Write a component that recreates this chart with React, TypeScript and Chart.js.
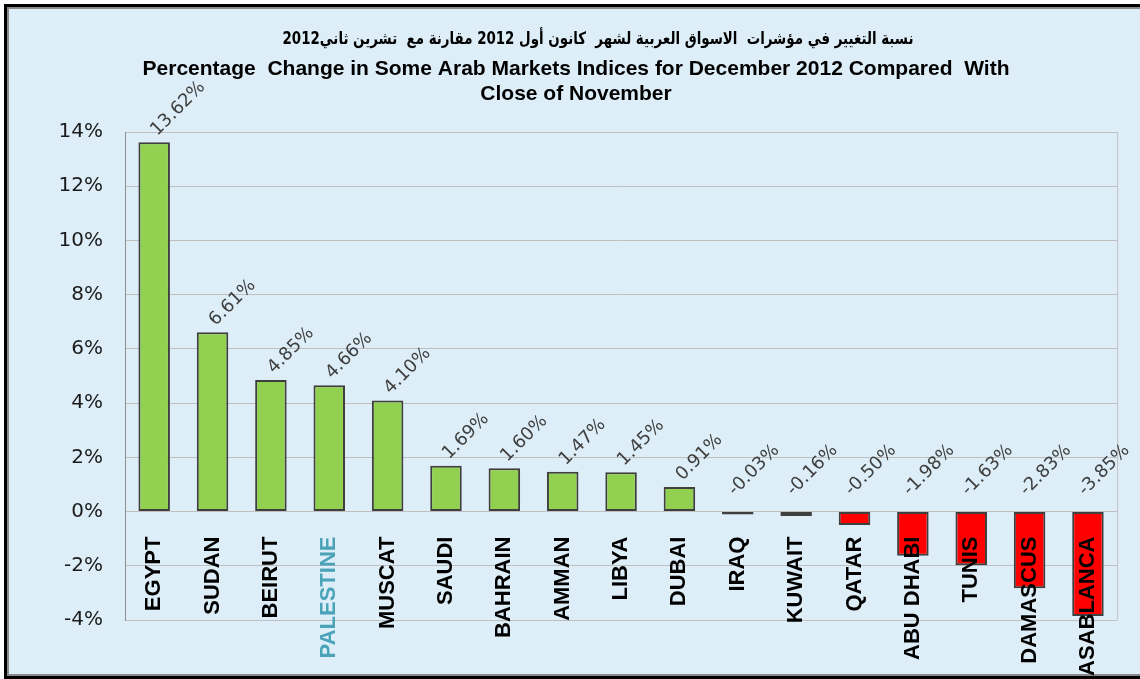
import React, { useEffect, useRef } from "react";
import { Chart, registerables } from "chart.js";

Chart.register(...registerables);

const categories = [
  "EGYPT", "SUDAN", "BEIRUT", "PALESTINE", "MUSCAT", "SAUDI", "BAHRAIN", "AMMAN", "LIBYA",
  "DUBAI", "IRAQ", "KUWAIT", "QATAR", "ABU DHABI", "TUNIS", "DAMASCUS", "CASABLANCA",
];
const barValues = [
  13.62, 6.61, 4.85, 4.66, 4.1, 1.69, 1.6, 1.47, 1.45, 0.91, -0.03, -0.16, -0.5, -1.63, -1.98, -2.83, -3.85,
];
const valueLabels = [
  "13.62%", "6.61%", "4.85%", "4.66%", "4.10%", "1.69%", "1.60%", "1.47%", "1.45%", "0.91%",
  "-0.03%", "-0.16%", "-0.50%", "-1.98%", "-1.63%", "-2.83%", "-3.85%",
];
const yTicks = [-4, -2, 0, 2, 4, 6, 8, 10, 12, 14];
const highlightedCategory = "PALESTINE";
const titleArabic = "نسبة التغيير في مؤشرات  الاسواق العربية لشهر  كانون أول 2012 مقارنة مع  تشرين ثاني2012";
const titleEnglish = [
  "Percentage  Change in Some Arab Markets Indices for December 2012 Compared  With",
  "Close of November",
];

const GREEN = "#92D050";
const RED = "#FF0000";
const BORDER = "#3F3F3F";
const GRID = "#BFBFBF";

const valueLabelPlugin = {
  id: "valueLabels",
  afterDatasetsDraw(chart: any) {
    const meta = chart.getDatasetMeta(0);
    const ctx = chart.ctx;
    ctx.save();
    ctx.font = '18px "DejaVu Sans"';
    ctx.fillStyle = "#404040";
    ctx.textAlign = "left";
    ctx.textBaseline = "alphabetic";
    meta.data.forEach((bar: any, i: number) => {
      const v = barValues[i];
      const ax = v >= 0 ? bar.x + 3 : bar.x - 3;
      const ay = v >= 0 ? bar.y - 6 : bar.base - 16;
      ctx.save();
      ctx.translate(ax, ay);
      ctx.rotate(-Math.PI / 4);
      ctx.fillText(valueLabels[i], 0, 0);
      ctx.restore();
    });
    ctx.restore();
  },
};

const plotBorderPlugin = {
  id: "plotBorder",
  beforeDatasetsDraw(chart: any) {
    const { ctx, chartArea } = chart;
    ctx.save();
    ctx.strokeStyle = GRID;
    ctx.lineWidth = 1;
    ctx.beginPath();
    ctx.moveTo(chartArea.right + 0.5, chartArea.top);
    ctx.lineTo(chartArea.right + 0.5, chartArea.bottom);
    ctx.stroke();
    ctx.restore();
  },
};

const arabicTitlePlugin = {
  id: "arabicTitle",
  afterDraw(chart: any) {
    const ctx = chart.ctx;
    ctx.save();
    ctx.font = 'bold 17px "DejaVu Sans"';
    ctx.fillStyle = "#000";
    ctx.textAlign = "center";
    ctx.textBaseline = "middle";
    const w = ctx.measureText(titleArabic).width;
    const sx = 631 / w;
    ctx.translate(598, 40);
    ctx.scale(sx, 1);
    ctx.fillText(titleArabic, 0, 0);
    ctx.restore();
  },
};

export default function App() {
  const canvasRef = useRef<HTMLCanvasElement | null>(null);

  useEffect(() => {
    if (!canvasRef.current) return;
    const chart = new Chart(canvasRef.current, {
      type: "bar",
      data: {
        labels: categories,
        datasets: [
          {
            data: barValues,
            backgroundColor: barValues.map((v) => (v >= 0 ? GREEN : RED)),
            borderColor: BORDER,
            borderWidth: 2,
            borderSkipped: false,
            barPercentage: 0.54,
            categoryPercentage: 1,
            minBarLength: 3,
          },
        ],
      },
      options: {
        responsive: false,
        animation: false,
        layout: { padding: { left: 34, right: 22, top: 0, bottom: 59 } },
        plugins: {
          legend: { display: false },
          tooltip: { enabled: false },
          title: { display: false },
          subtitle: {
            display: true,
            text: titleEnglish,
            color: "#000",
            font: { family: '"Liberation Sans"', size: 21, weight: "bold", lineHeight: "25px" },
            padding: { top: 57, bottom: 25 },
          },
        },
        scales: {
          x: {
            position: { y: 0 } as any,
            grid: { display: false, drawTicks: false },
            border: { display: false },
            ticks: {
              z: 1,
              autoSkip: false,
              minRotation: 90,
              maxRotation: 90,
              padding: 25,
              color: (c: any) => (categories[c.index] === highlightedCategory ? "#4BA3B8" : "#000"),
              font: { family: '"Liberation Sans"', size: 22, weight: "bold" },
            },
          },
          y: {
            min: -4,
            max: 14,
            afterFit: (s: any) => {
              s.width = 91;
            },
            afterBuildTicks: (s: any) => {
              s.ticks = yTicks.map((v) => ({ value: v }));
            },
            grid: { color: GRID, lineWidth: 1, drawTicks: false },
            border: { display: true, color: "#8C8C8C", width: 1 },
            ticks: {
              padding: 22,
              color: "#1A1A1A",
              font: { family: '"DejaVu Sans"', size: 20 },
              callback: (v: any) => `${v}%`,
            },
          },
        },
      },
      plugins: [valueLabelPlugin, plotBorderPlugin, arabicTitlePlugin],
    });
    return () => chart.destroy();
  }, []);

  return (
    <div style={{ position: "fixed", left: 0, top: 0, width: 1140, height: 679, overflow: "hidden", background: "#fff" }}>
      <div
        style={{
          position: "absolute",
          left: 4,
          top: 4,
          width: 1136,
          height: 675,
          borderTop: "3px solid #000",
          borderLeft: "3px solid #000",
          borderBottom: "3px solid #000",
          borderRight: "none",
          boxSizing: "border-box",
          background: "#DDEEF8",
        }}
      >
        <div
          style={{
            position: "absolute",
            left: 0,
            top: 0,
            right: 0,
            bottom: 0,
            borderTop: "2px solid #8A8A8A",
            borderLeft: "2px solid #8A8A8A",
            borderBottom: "2px solid #8A8A8A",
          }}
        />
      </div>
      <canvas ref={canvasRef} width={1140} height={679} style={{ position: "absolute", left: 0, top: 0 }} />
    </div>
  );
}
